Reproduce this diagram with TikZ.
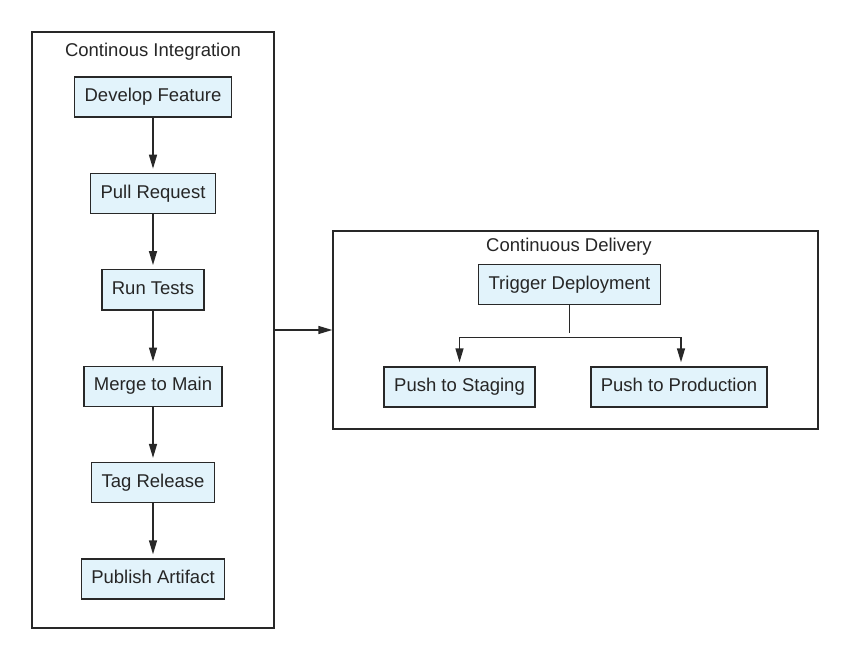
\documentclass[tikz,border=0pt]{standalone}
\usepackage{fontspec}
\setmainfont{Liberation Sans}
\usetikzlibrary{arrows.meta,positioning,calc}
\definecolor{boxfill}{RGB}{226,243,251}
\definecolor{linegray}{RGB}{40,40,40}

\begin{document}
\begin{tikzpicture}[->,>={Stealth[length=14pt,width=8pt,inset=0pt]},shorten >=4pt,x=1pt,y=-1pt,node distance=96.4pt,line width=1.4pt,draw=linegray]
\tikzstyle{every node}=[font=\fontsize{18.5}{22}\selectfont,text=black!85]
\tikzstyle{task}=[draw=linegray,fill=boxfill,minimum height=40pt,inner xsep=10pt,inner ysep=0pt,text height=13.4pt,text depth=3.9pt]
\tikzstyle{cluster}=[draw=linegray,inner sep=0pt]
\useasboundingbox (0,0) rectangle (851,660);
%clusters
\node[cluster,minimum width=242pt,minimum height=596pt] at (153,330) (ci){};
\node[cluster,minimum width=485pt,minimum height=198pt] at (575.5,330) (cd){};
\node at (153,52) (citl){Continous Integration};
\node at (569,247) (cdtl){Continuous Delivery};
%integration
\node[task] at (153,97) (dev){Develop Feature};
\node[task][below of=dev](pr){Pull Request};
\node[task][below of=pr](tests){Run Tests};
\node[task][below of=tests](merge){Merge to Main};
\node[task][below of=merge](tag){Tag Release};
\node[task][below of=tag](pub){Publish Artifact};
%delivery
\node[task] at (569.5,284.5) (trig){Trigger Deployment};
\node[task] at (459.5,387) (stag){Push to Staging};
\node[task] at (679,387) (prod){Push to Production};
\coordinate (split) at ($(trig.south)+(0,32)$);
 %paths
\path (dev) edge (pr);
\path (pr) edge (tests);
\path (tests) edge (merge);
\path (merge) edge (tag);
\path (tag) edge (pub);
 %draw
\draw [shorten >=0pt] (ci.east) -- (cd.west);
\draw [-] (trig.south) -- (split);
\draw (split) -| (stag);
\draw (split) -| ($(prod.north)+(2,0)$);
\end{tikzpicture}
\end{document}
